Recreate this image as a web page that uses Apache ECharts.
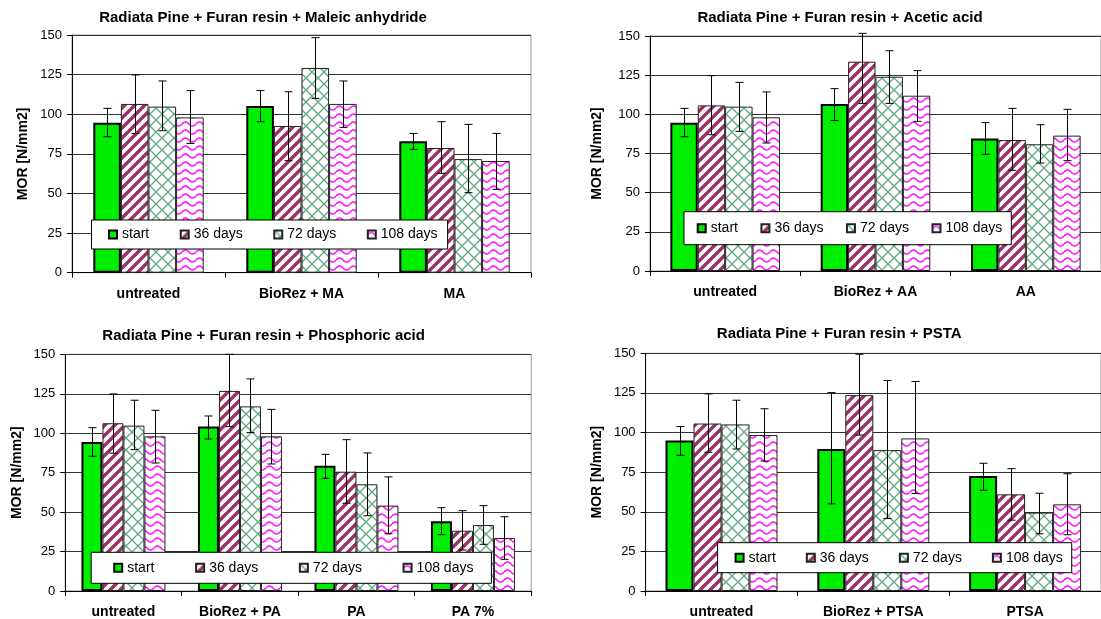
<!DOCTYPE html>
<html>
<head>
<meta charset="utf-8">
<script src="https://cdn.jsdelivr.net/npm/echarts@6/dist/echarts.min.js"></script>
<style>
  html, body { margin: 0; padding: 0; background: #fff; }
  #chart { width: 1101px; height: 619px; }
</style>
</head>
<body>
<div id="chart"></div>
<script>
// series names shared by all four panels
const seriesNames = ['start', '36 days', '72 days', '108 days'];
const yAxisName = 'MOR [N/mm2]';

// Maleic anhydride — one row per series, one value per category
const maTitle = 'Radiata Pine + Furan resin + Maleic anhydride';
const maCats = ['untreated', 'BioRez + MA', 'MA'];
const maMean = [[94.7, 105.2, 82.9], [106.5, 92.6, 78.7], [104.8, 129.2, 71.7], [98, 106.5, 70.5]];
const maLow = [[85.8, 95.3, 77.8], [87.9, 70.7, 62.7], [89.6, 110, 50.5], [81.6, 91.7, 52.6]];
const maHigh = [[103.7, 114.9, 87.9], [124.8, 114.2, 95.3], [121, 148.3, 93.6], [114.9, 121, 87.9]];

// Acetic acid
const aaTitle = 'Radiata Pine + Furan resin + Acetic acid';
const aaCats = ['untreated', 'BioRez + AA', 'AA'];
const aaMean = [[94.7, 106.6, 84.5], [105.7, 133.6, 83.6], [104.9, 124, 80.9], [98.1, 111.9, 86.4]];
const aaLow = [[85.7, 96, 74.5], [87, 107, 64.3], [89.1, 107, 68.9], [81.7, 95.5, 70.4]];
const aaHigh = [[103.8, 116.4, 94.7], [124.7, 151.7, 103.8], [120.4, 140.6, 93.4], [114.3, 127.9, 103.2]];

// Phosphoric acid
const paTitle = 'Radiata Pine + Furan resin + Phosphoric acid';
const paCats = ['untreated', 'BioRez + PA', 'PA', 'PA 7%'];
const paMean = [[94.4, 104.2, 79.4, 44.2], [106.3, 126.8, 75.6, 38.2], [104.8, 117, 67.6, 41.8], [98, 98, 54.1, 33.6]];
const paLow = [[85.4, 96.3, 71.4, 35.7], [87.3, 104.2, 55.6, 26], [89.6, 100.4, 47.7, 29.6], [81.1, 80.5, 36.3, 20.1]];
const paHigh = [[103.5, 110.9, 86.6, 52.8], [124.9, 150, 95.9, 50.9], [120.9, 134.4, 87.5, 54.1], [114.5, 115.1, 72.3, 47.1]];

// PSTA
const ptTitle = 'Radiata Pine + Furan resin + PSTA';
const ptCats = ['untreated', 'BioRez + PTSA', 'PTSA'];
const ptMean = [[95, 89.6, 72.6], [105.7, 123.6, 61], [105.1, 88.9, 49.5], [98.4, 96.3, 54.7]];
const ptLow = [[85.6, 55, 63.6], [87.5, 98.4, 44.7], [89.6, 45.7, 36.1], [82, 61.5, 35.5]];
const ptHigh = [[103.8, 125.2, 80.6], [124.4, 149.4, 77.2], [120.4, 132.8, 61.7], [115, 132.2, 74]];

const FONT = 'Liberation Sans, Arial, sans-serif';

// fill patterns
function tile(w, h, draw) {
  const c = document.createElement('canvas');
  c.width = w; c.height = h;
  const g = c.getContext('2d');
  g.fillStyle = '#fff';
  g.fillRect(0, 0, w, h);
  draw(g);
  return { image: c, repeat: 'repeat' };
}
const stripes = tile(10, 10, g => {
  g.strokeStyle = '#993366';
  g.lineWidth = 3.4;
  g.beginPath();
  g.moveTo(-5, 5); g.lineTo(5, -5);
  g.moveTo(0, 10); g.lineTo(10, 0);
  g.moveTo(5, 15); g.lineTo(15, 5);
  g.stroke();
});
const hatch = tile(12, 12, g => {
  g.strokeStyle = '#5fa883';
  g.lineWidth = 1.3;
  g.beginPath();
  g.moveTo(0, 0); g.lineTo(12, 12);
  g.moveTo(12, 0); g.lineTo(0, 12);
  g.stroke();
});
const waves = tile(14, 8, g => {
  g.strokeStyle = '#ff22ff';
  g.lineWidth = 1.7;
  g.beginPath();
  for (let x = 0; x <= 14; x += 0.5) {
    const y = 4 - 2 * Math.sin(2 * Math.PI * x / 14);
    if (x === 0) g.moveTo(x, y); else g.lineTo(x, y);
  }
  g.stroke();
});

const itemStyles = [
  { color: '#00ee00', borderColor: '#000', borderWidth: 2 },
  { color: stripes, borderColor: '#222', borderWidth: 1 },
  { color: hatch, borderColor: '#222', borderWidth: 1 },
  { color: waves, borderColor: '#222', borderWidth: 1 }
];

const panels = [
  { title: maTitle, cats: maCats, mean: maMean, low: maLow, high: maHigh,
    grid: { left: 72, top: 35, width: 459, height: 237.7 }, bw: 27.6,
    tx: 263, ty: 18, nameGap: 42,
    legend: { left: 91.5, top: 220, padding: [7.5, 10, 7.5, 16.5], itemGap: 30.5 } },
  { title: aaTitle, cats: aaCats, mean: aaMean, low: aaLow, high: aaHigh,
    grid: { left: 650, top: 36, width: 453, height: 235 }, bw: 27.4,
    tx: 840, ty: 18.3, nameGap: 45.7,
    legend: { left: 684, top: 211.7, padding: [9.5, 9, 9.5, 12.7], itemGap: 22.5 } },
  { title: paTitle, cats: paCats, mean: paMean, low: paLow, high: paHigh,
    grid: { left: 65.2, top: 354.3, width: 466, height: 236.7 }, bw: 21,
    tx: 263.6, ty: 335.7, nameGap: 40.7,
    legend: { left: 91.2, top: 552.3, padding: [8.5, 18, 8.5, 22], itemGap: 40.7 } },
  { title: ptTitle, cats: ptCats, mean: ptMean, low: ptLow, high: ptHigh,
    grid: { left: 645.6, top: 353.3, width: 461, height: 238.4 }, bw: 28,
    tx: 839.2, ty: 334, nameGap: 41.2,
    legend: { left: 717.6, top: 542.7, padding: [8, 9, 8, 17], itemGap: 30 } }
];

const option = {
  animation: false,
  backgroundColor: '#fff',
  textStyle: { fontFamily: FONT },
  grid: [], xAxis: [], yAxis: [], legend: [], series: [], graphic: []
};

panels.forEach((p, gi) => {
  option.grid.push(Object.assign({ show: true, borderColor: '#999', borderWidth: 1 }, p.grid));
  option.xAxis.push({
    type: 'category', gridIndex: gi, data: p.cats,
    axisLine: { lineStyle: { color: '#000', width: 1 } },
    axisTick: { show: true, length: 5, lineStyle: { color: '#000' } },
    axisLabel: { interval: 0, margin: 14, color: '#000', fontSize: 14, fontWeight: 'bold', fontFamily: FONT }
  });
  option.yAxis.push({
    type: 'value', gridIndex: gi, min: 0, max: 150, interval: 25,
    name: yAxisName, nameLocation: 'middle', nameRotate: 90, nameGap: p.nameGap,
    nameTextStyle: { color: '#000', fontSize: 14, fontWeight: 'bold', fontFamily: FONT },
    axisLine: { show: true, lineStyle: { color: '#000', width: 1 } },
    axisTick: { show: true, length: 5, lineStyle: { color: '#000' } },
    axisLabel: { margin: 10, color: '#000', fontSize: 13, fontFamily: FONT },
    splitLine: { show: true, lineStyle: { color: '#333', width: 1 } }
  });
  option.legend.push(Object.assign({
    data: seriesNames, orient: 'horizontal',
    backgroundColor: '#fff', borderColor: '#000', borderWidth: 1, borderRadius: 0,
    itemWidth: 8, itemHeight: 8, icon: 'rect', selectedMode: false,
    textStyle: { color: '#000', fontSize: 14, fontFamily: FONT }
  }, p.legend));
  option.graphic.push({
    type: 'text', x: p.tx, y: p.ty,
    style: { text: p.title, textAlign: 'center', textVerticalAlign: 'middle',
      font: 'bold 15px ' + FONT, fill: '#000' }
  });
  seriesNames.forEach((name, k) => {
    option.series.push({
      type: 'bar', name: name, xAxisIndex: gi, yAxisIndex: gi,
      data: p.mean[k], barWidth: p.bw, barGap: '0%',
      itemStyle: itemStyles[k], z: 2
    });
  });
  seriesNames.forEach((name, k) => {
    const off = (k - 1.5) * p.bw;
    option.series.push({
      type: 'custom', xAxisIndex: gi, yAxisIndex: gi, z: 3, silent: true, clip: false,
      data: p.low[k].map((lo, i) => [i, lo, p.high[k][i]]),
      encode: { x: 0, y: [1, 2] },
      renderItem: (params, api) => {
        const a = api.coord([api.value(0), api.value(1)]);
        const b = api.coord([api.value(0), api.value(2)]);
        const x = Math.round(a[0] + off) + 0.5;
        const st = { stroke: '#000', lineWidth: 1 };
        return { type: 'group', children: [
          { type: 'line', shape: { x1: x, y1: b[1], x2: x, y2: a[1] }, style: st },
          { type: 'line', shape: { x1: x - 4, y1: b[1], x2: x + 4, y2: b[1] }, style: st },
          { type: 'line', shape: { x1: x - 4, y1: a[1], x2: x + 4, y2: a[1] }, style: st }
        ] };
      }
    });
  });
});

const chart = echarts.init(document.getElementById('chart'));
chart.setOption(option);
</script>
</body>
</html>
